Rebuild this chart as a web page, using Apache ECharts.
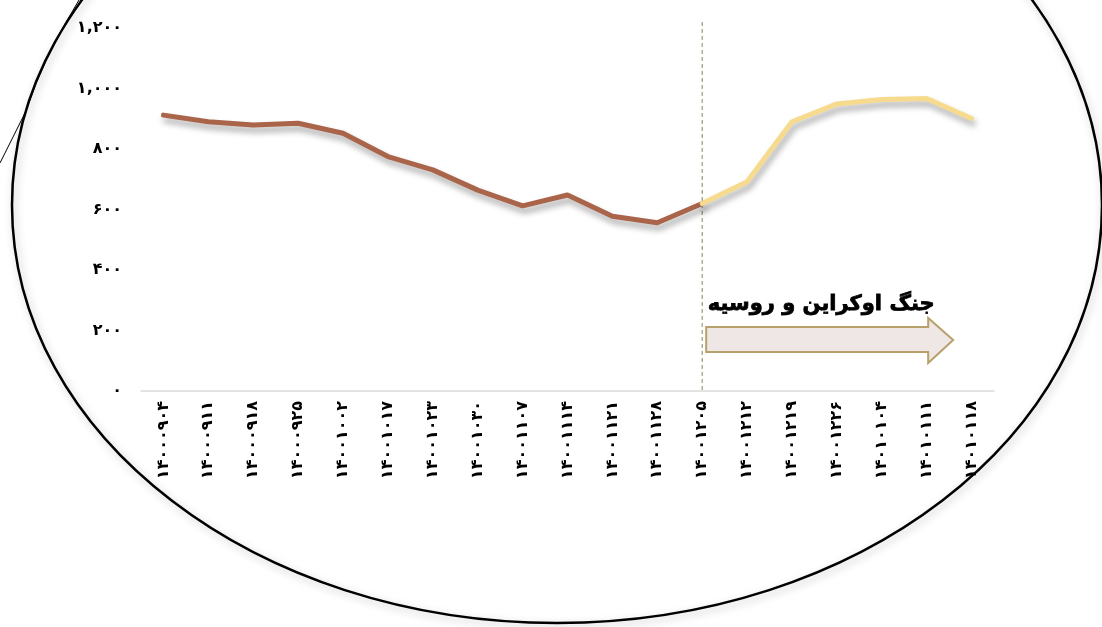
<!DOCTYPE html>
<html>
<head>
<meta charset="utf-8">
<script src="https://cdn.jsdelivr.net/npm/echarts@6/dist/echarts.min.js"></script>
<style>
html,body{margin:0;padding:0;background:#fff;}
#chart{width:1102px;height:627px;}
</style>
</head>
<body>
<div id="chart"></div>
<script>
// Categories (dates, Persian digits)
const categories = ['۱۴۰۰۰۹۰۴','۱۴۰۰۰۹۱۱','۱۴۰۰۰۹۱۸','۱۴۰۰۰۹۲۵','۱۴۰۰۱۰۰۲','۱۴۰۰۱۰۱۷','۱۴۰۰۱۰۲۳','۱۴۰۰۱۰۳۰','۱۴۰۰۱۱۰۷','۱۴۰۰۱۱۱۴','۱۴۰۰۱۱۲۱','۱۴۰۰۱۱۲۸','۱۴۰۰۱۲۰۵','۱۴۰۰۱۲۱۲','۱۴۰۰۱۲۱۹','۱۴۰۰۱۲۲۶','۱۴۰۱۰۱۰۴','۱۴۰۱۰۱۱۱','۱۴۰۱۰۱۱۸'];
// Values before the war (first 13 dates)
const valuesBefore = [912, 890, 879, 885, 852, 775, 731, 664, 612, 648, 578, 556, 620];
// Values after the war started (last 7 dates, starting at the war date)
const valuesAfter = [620, 692, 890, 949, 964, 967, 901];
// Y tick labels
const yTickLabels = ['۰','۲۰۰','۴۰۰','۶۰۰','۸۰۰','۱,۰۰۰','۱,۲۰۰'];
const warIndex = 12;
const annotationText = 'جنگ اوکراین و روسیه';

const beforeData = categories.map((c, i) => i < valuesBefore.length ? valuesBefore[i] : null);
const afterData = categories.map((c, i) => i >= warIndex ? valuesAfter[i - warIndex] : null);

const chart = echarts.init(document.getElementById('chart'));
const shadow = {shadowColor:'rgba(0,0,0,0.35)', shadowBlur:6, shadowOffsetX:2, shadowOffsetY:5};
const FONT = "'DejaVu Sans', sans-serif";

chart.setOption({
  animation:false,
  backgroundColor:'#fff',
  grid:{left:141, right:108, top:28, bottom:236},
  xAxis:{
    type:'category', data:categories, boundaryGap:true,
    axisLine:{show:true, lineStyle:{color:'#D9D9D9', width:1.5}},
    axisTick:{show:false},
    axisLabel:{rotate:90, interval:0, margin:10, color:'#000', fontFamily:FONT, fontWeight:'bold', fontSize:16}
  },
  yAxis:{
    type:'value', min:0, max:1200, interval:200,
    axisLine:{show:false}, axisTick:{show:false}, splitLine:{show:false},
    axisLabel:{margin:19, color:'#000', fontFamily:FONT, fontWeight:'bold', fontSize:16,
      formatter:v => yTickLabels[Math.round(v/200)]}
  },
  series:[
    {type:'line', data:beforeData, symbol:'none', connectNulls:false, z:3,
     lineStyle:Object.assign({color:'#A9644A', width:5, cap:'round', join:'round'}, shadow)},
    {type:'line', data:afterData, symbol:'none', connectNulls:false, z:3,
     lineStyle:Object.assign({color:'#F6DB8F', width:5, cap:'round', join:'round'}, shadow)}
  ]
});

// Decorations positioned through the library's scales
const xWar = chart.convertToPixel({xAxisIndex:0}, warIndex);
const y0 = chart.convertToPixel({yAxisIndex:0}, 0);
const yTop = chart.convertToPixel({yAxisIndex:0}, 1220);

chart.setOption({
  graphic:[
    {type:'ellipse', shape:{cx:557, cy:205, rx:545, ry:418}, z:1,
     style:{fill:'none', stroke:'#000', lineWidth:2.5, shadowColor:'rgba(0,0,0,0.25)', shadowBlur:8, shadowOffsetX:2, shadowOffsetY:3}},
    {type:'polyline', shape:{points:[[0,163],[26,111]]}, z:1, style:{stroke:'#000', lineWidth:1}},
    {type:'bezierCurve', shape:{x1:26, y1:111, cpx1:42, cpy1:60, x2:79, y2:0}, z:1, style:{stroke:'#000', lineWidth:1, fill:'none'}},
    {type:'line', shape:{x1:xWar, y1:yTop, x2:xWar, y2:y0}, z:2,
     style:{stroke:'#8E8160', lineWidth:1, lineDash:[4,3]}},
    {type:'polygon', z:4,
     shape:{points:[[xWar+4,327],[xWar+226,327],[xWar+226,318],[xWar+251,340],[xWar+226,363],[xWar+226,352],[xWar+4,352]]},
     style:{fill:'#EFE6E6', stroke:'#B8A06A', lineWidth:2}},
    {type:'text', z:4, x:xWar+119, y:305,
     style:{text:annotationText, fill:'#000', font:"bold 21px 'DejaVu Sans', sans-serif", align:'center', verticalAlign:'middle',
       stroke:'#000', lineWidth:0.8}}
  ]
});
</script>
</body>
</html>
